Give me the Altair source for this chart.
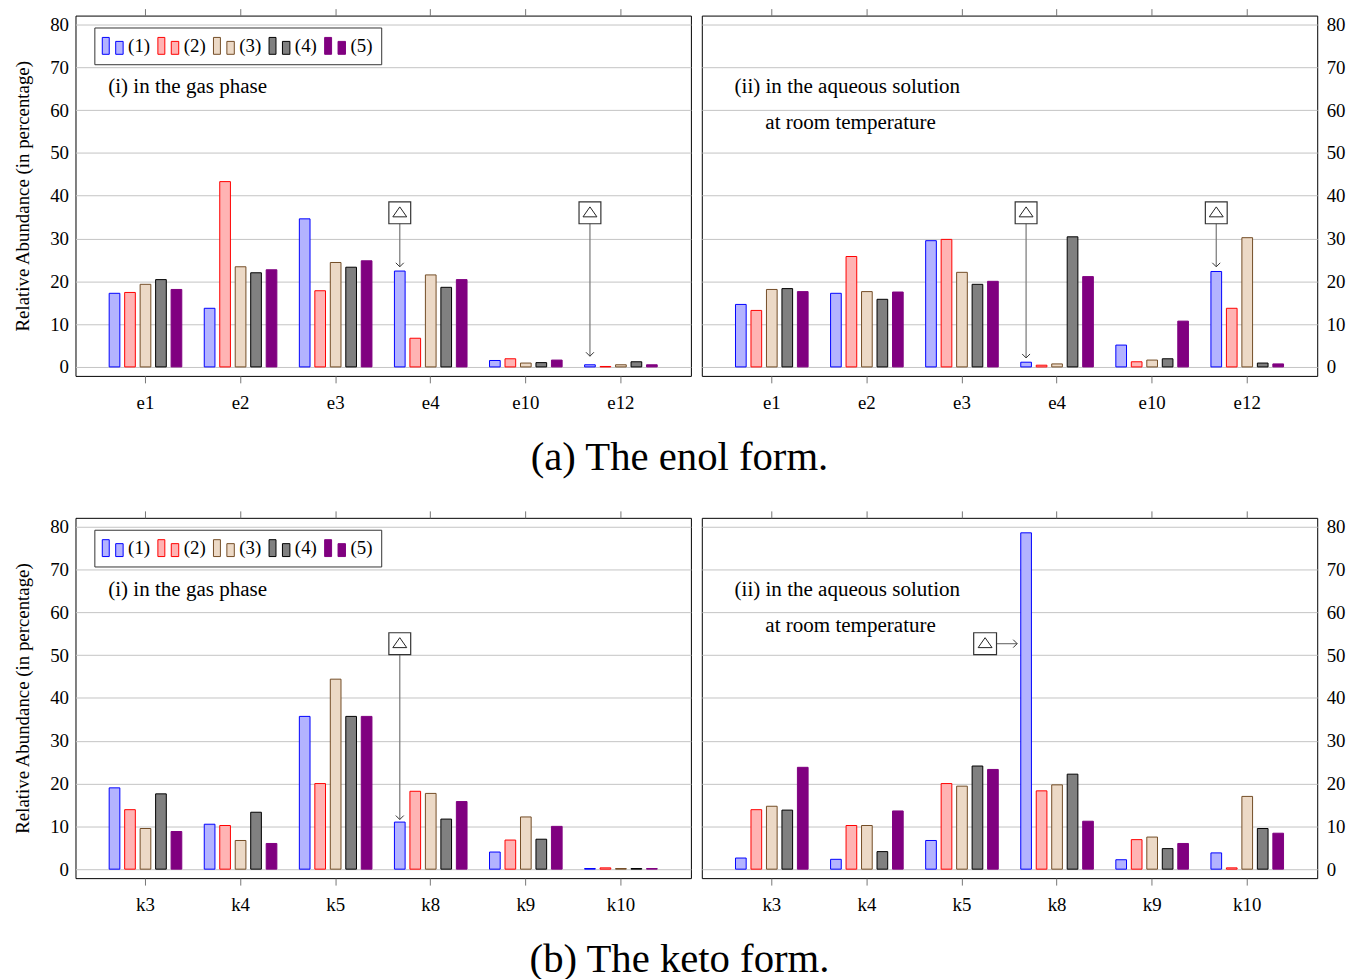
import altair as alt
import pandas as pd

# ---------------- data ----------------
series = ["(1)", "(2)", "(3)", "(4)", "(5)"]
fill_colors = ["#b3b3ff", "#ffb3b3", "#ecd9c6", "#808080", "#800080"]
stroke_colors = ["#0000ff", "#ff0000", "#734d26", "#000000", "#800080"]

enol_categories = ["e1", "e2", "e3", "e4", "e10", "e12"]
keto_categories = ["k3", "k4", "k5", "k8", "k9", "k10"]

# (a)(i) enol, gas phase
enol_gas_1 = [17.2, 13.7, 34.6, 22.4, 1.5, 0.5]
enol_gas_2 = [17.4, 43.3, 17.8, 6.7, 1.9, 0.1]
enol_gas_3 = [19.3, 23.4, 24.4, 21.5, 0.9, 0.5]
enol_gas_4 = [20.4, 22.0, 23.3, 18.6, 1.0, 1.2]
enol_gas_5 = [18.1, 22.7, 24.8, 20.4, 1.6, 0.5]

# (a)(ii) enol, aqueous solution
enol_aq_1 = [14.6, 17.2, 29.5, 1.1, 5.1, 22.3]
enol_aq_2 = [13.2, 25.8, 29.8, 0.4, 1.2, 13.7]
enol_aq_3 = [18.1, 17.6, 22.1, 0.7, 1.6, 30.2]
enol_aq_4 = [18.3, 15.8, 19.3, 30.4, 1.9, 0.9]
enol_aq_5 = [17.6, 17.5, 20.0, 21.1, 10.7, 0.7]

# (b)(i) keto, gas phase
keto_gas_1 = [19.0, 10.5, 35.7, 11.0, 4.0, 0.15]
keto_gas_2 = [13.9, 10.2, 20.0, 18.2, 6.8, 0.3]
keto_gas_3 = [9.5, 6.7, 44.4, 17.7, 12.2, 0.15]
keto_gas_4 = [17.6, 13.3, 35.7, 11.7, 7.0, 0.15]
keto_gas_5 = [8.8, 6.0, 35.7, 15.8, 10.0, 0.15]

# (b)(ii) keto, aqueous solution
keto_aq_1 = [2.6, 2.3, 6.7, 78.6, 2.2, 3.8]
keto_aq_2 = [13.9, 10.2, 20.0, 18.3, 6.9, 0.3]
keto_aq_3 = [14.7, 10.2, 19.4, 19.7, 7.5, 17.0]
keto_aq_4 = [13.8, 4.1, 24.1, 22.2, 4.8, 9.5]
keto_aq_5 = [23.8, 13.6, 23.3, 11.2, 6.0, 8.4]

# annotation markers (boxed triangles pointing at series (1))
enol_gas_marks = ["e4", "e12"]
enol_gas_tips = [23.4, 2.5]
enol_aq_marks = ["e4", "e12"]
enol_aq_tips = [2.1, 23.4]
keto_gas_marks = ["k8"]
keto_gas_tips = [11.6]
keto_aq_marks = ["k8"]
enol_box_level = 36.0
keto_box_level = 52.7

y_ticks = [0, 10, 20, 30, 40, 50, 60, 70, 80]

FONT = "Liberation Serif"
W, H = 620, 363
Y_DOMAIN = [-2.1, 82.1]


def long_df(categories, cols):
    rows = []
    for s, vals in zip(series, cols):
        for c, v in zip(categories, vals):
            rows.append({"cat": c, "series": s, "value": v})
    return pd.DataFrame(rows)


LEGEND_SYMBOL = "M-1.05,-0.85H-0.35V0.85H-1.05Z M0.3,-0.45H1.05V0.85H0.3Z"


def panel(categories, cols, side, texts, marks, tips, box_level, horizontal=False):
    df = long_df(categories, cols)
    xs = alt.Scale(domain=categories, paddingInner=0, paddingOuter=0.236)
    xo = alt.Scale(domain=series, paddingInner=0.31, paddingOuter=0.726)
    ys = alt.Scale(domain=Y_DOMAIN, nice=False, zero=False)

    x_enc = alt.X("cat:N", scale=xs, sort=categories,
                  axis=alt.Axis(orient="bottom", title=None, labelAngle=0,
                                labelFont=FONT, labelFontSize=19, labelColor="black",
                                labelPadding=11, tickSize=7, tickColor="#777",
                                domain=False, grid=False))
    xo_enc = alt.XOffset("series:N", scale=xo, sort=series)

    if side == "left":
        legend = alt.Legend(orient="none", legendX=19, legendY=12, direction="horizontal",
                            columns=5, title=None, symbolType=LEGEND_SYMBOL, symbolSize=400,
                            symbolStrokeWidth=1, labelFont=FONT, labelFontSize=19,
                            labelColor="black", labelOffset=5, columnPadding=5,
                            fillColor="white", strokeColor="#333", padding=8)
        yaxis = alt.Axis(orient="left", values=y_ticks, grid=True, gridColor="#c4c4c4",
                         ticks=False, domain=False, labelFont=FONT, labelFontSize=19,
                         labelColor="black", labelPadding=7,
                         title="Relative Abundance (in percentage)", titleFont=FONT,
                         titleFontSize=19, titleFontWeight="normal", titleColor="black",
                         titlePadding=17)
    else:
        legend = None
        yaxis = alt.Axis(orient="right", values=y_ticks, grid=True, gridColor="#c4c4c4",
                         ticks=False, domain=False, labelFont=FONT, labelFontSize=19,
                         labelColor="black", labelPadding=9, title=None)

    def ya(f):
        # every layer carries the same axis so the shared y axis is kept
        return alt.Y(f"{f}:Q", scale=ys, axis=yaxis)

    bars = alt.Chart(df).mark_bar(strokeWidth=1).encode(
        x=x_enc,
        xOffset=xo_enc,
        y=alt.Y("value:Q", scale=ys, axis=yaxis, stack=None),
        fill=alt.Fill("series:N", scale=alt.Scale(domain=series, range=fill_colors), legend=legend),
        stroke=alt.Stroke("series:N", scale=alt.Scale(domain=series, range=stroke_colors), legend=legend),
    )

    # top axis ticks only
    top = alt.Chart(pd.DataFrame({"cat": categories, "z": [0] * len(categories)})).mark_point(
        opacity=0).encode(
        x=alt.X("cat:N", scale=xs, sort=categories,
                axis=alt.Axis(orient="top", title=None, labels=False, tickSize=7,
                              tickColor="#777", domain=False, grid=False)),
        y=ya("z"),
    )

    layers = [bars, top]

    for (txt, px, yv) in texts:
        layers.append(
            alt.Chart(pd.DataFrame({"t": [txt], "yv": [yv]})).mark_text(
                align="left", baseline="middle", font=FONT, fontSize=21.2, color="black"
            ).encode(x=alt.value(px), y=ya("yv"), text="t:N")
        )

    xa = alt.X("cat:N", scale=xs, sort=categories, axis=None)

    if not horizontal:
        adf = pd.DataFrame({"cat": marks, "series": ["(1)"] * len(marks),
                            "box": [box_level] * len(marks), "tip": tips})
        layers.append(alt.Chart(adf).mark_rule(color="#808080", strokeWidth=1.3).encode(
            x=xa, xOffset=xo_enc, y=ya("box"), y2="tip:Q"))
        layers.append(alt.Chart(adf).mark_point(shape="M-1,-1L0,0L1,-1", size=64, filled=False,
                                                stroke="#333", strokeWidth=1, opacity=1).encode(
            x=xa, xOffset=xo_enc, y=ya("tip")))
        layers.append(alt.Chart(adf).mark_point(shape="square", size=484, filled=True, fill="white",
                                                stroke="#333", strokeWidth=1.2, opacity=1).encode(
            x=xa, xOffset=xo_enc, y=ya("box")))
        layers.append(alt.Chart(adf).mark_point(shape="M-0.7,0.4L0,-0.6L0.7,0.4Z", size=400,
                                                filled=False, stroke="#222", strokeWidth=1,
                                                opacity=1).encode(
            x=xa, xOffset=xo_enc, y=ya("box")))
    else:
        adf = pd.DataFrame({"cat": marks, "series": ["(1)"] * len(marks),
                            "box": [box_level] * len(marks)})
        layers.append(alt.Chart(adf).mark_point(shape="M-2.98,0H-0.9", size=400, filled=False,
                                                stroke="#808080", strokeWidth=1.3, opacity=1).encode(
            x=xa, xOffset=xo_enc, y=ya("box")))
        layers.append(alt.Chart(adf).mark_point(shape="M-1.3,-0.4L-0.9,0L-1.3,0.4", size=400,
                                                filled=False, stroke="#333", strokeWidth=1,
                                                opacity=1).encode(
            x=xa, xOffset=xo_enc, y=ya("box")))
        layers.append(alt.Chart(adf).mark_point(shape="M-5.28,-1.1H-2.98V1.1H-5.28Z", size=400,
                                                filled=True, fill="white", stroke="#333",
                                                strokeWidth=1.2, opacity=1).encode(
            x=xa, xOffset=xo_enc, y=ya("box")))
        layers.append(alt.Chart(adf).mark_point(shape="M-4.83,0.4L-4.13,-0.6L-3.43,0.4Z", size=400,
                                                filled=False, stroke="#222", strokeWidth=1,
                                                opacity=1).encode(
            x=xa, xOffset=xo_enc, y=ya("box")))

    return alt.layer(*layers).properties(width=W, height=H)


gas_text = [("(i) in the gas phase", 33, 65.3)]
aq_text = [("(ii) in the aqueous solution", 33, 65.3), ("at room temperature", 64, 56.9)]

p_a1 = panel(enol_categories, [enol_gas_1, enol_gas_2, enol_gas_3, enol_gas_4, enol_gas_5],
             "left", gas_text, enol_gas_marks, enol_gas_tips, enol_box_level)
p_a2 = panel(enol_categories, [enol_aq_1, enol_aq_2, enol_aq_3, enol_aq_4, enol_aq_5],
             "right", aq_text, enol_aq_marks, enol_aq_tips, enol_box_level)
p_b1 = panel(keto_categories, [keto_gas_1, keto_gas_2, keto_gas_3, keto_gas_4, keto_gas_5],
             "left", gas_text, keto_gas_marks, keto_gas_tips, keto_box_level)
p_b2 = panel(keto_categories, [keto_aq_1, keto_aq_2, keto_aq_3, keto_aq_4, keto_aq_5],
             "right", aq_text, keto_aq_marks, None, keto_box_level, horizontal=True)


def caption(text):
    return alt.TitleParams(text=text, orient="bottom", anchor="middle", font=FONT,
                           fontSize=41, fontWeight="normal", color="black", offset=25)


def row(a, b, text):
    return alt.hconcat(a, b, spacing=9, title=caption(text)).resolve_scale(
        x="independent", y="independent", fill="independent", stroke="independent"
    ).resolve_legend(fill="independent", stroke="independent")


chart = alt.vconcat(
    row(p_a1, p_a2, "(a) The enol form."),
    row(p_b1, p_b2, "(b) The keto form."),
    spacing=32,
).resolve_scale(
    x="independent", y="independent", fill="independent", stroke="independent"
).resolve_legend(fill="independent", stroke="independent").properties(
    padding={"left": 5, "top": -4, "right": 0, "bottom": 0},
    background="white",
).configure_view(stroke="black", strokeWidth=1)

chart.save("out.html", embed_options={"renderer": "svg", "actions": False})
